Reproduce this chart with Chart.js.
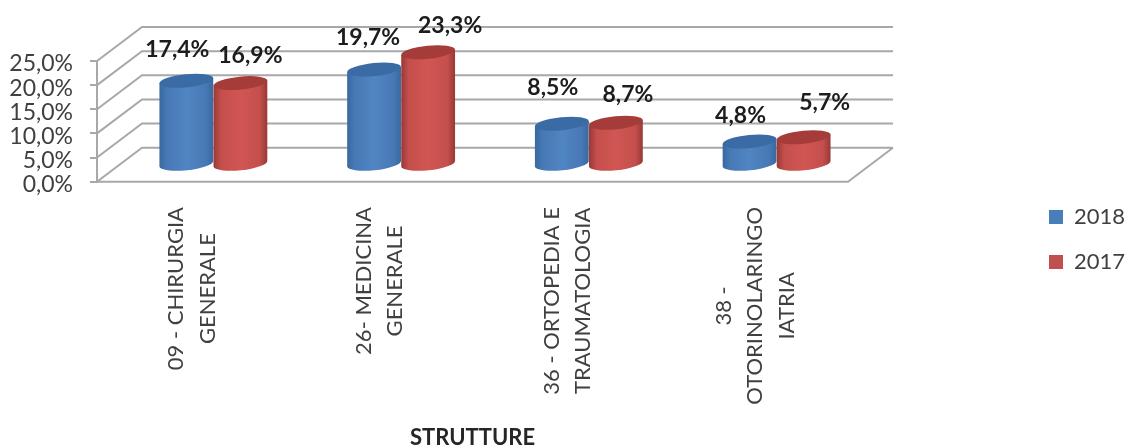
<!DOCTYPE html>
<html>
<head>
<meta charset="utf-8">
<title>Strutture</title>
<script src="https://cdn.jsdelivr.net/npm/chart.js@4"></script>
<style>
  html, body { margin: 0; padding: 0; background: #fff; }
  #chart { display: block; }
</style>
</head>
<body>
<canvas id="chart" width="1128" height="448"></canvas>
<script>
const categories = [
  ['09 - CHIRURGIA', 'GENERALE'],
  ['26- MEDICINA', 'GENERALE'],
  ['36 - ORTOPEDIA E', 'TRAUMATOLOGIA'],
  ['38 -', 'OTORINOLARINGO', 'IATRIA']
];
const values2018 = [17.4, 19.7, 8.5, 4.8];
const values2017 = [16.9, 23.3, 8.7, 5.7];
const tickValues = [0, 5, 10, 15, 20, 25];

// label nudges from the top of each cylinder, per series
const labelNudge = [
  [[-9, -31], [-6, -32], [-9, -36], [-9, -26]],
  [[10, -28], [22, -27], [12, -28], [21, -35]]
];

const DEPTH_X = 45;
const DEPTH_Y = -34;
const GRID = '#a8a8a8';

function pct(v) {
  return v.toFixed(1).replace('.', ',') + '%';
}

function cylinder(ctx, cx, top, bottom, w, c) {
  const rx = w / 2, ry = 6.5, rot = -0.1;
  const g = ctx.createLinearGradient(cx - rx, 0, cx + rx, 0);
  g.addColorStop(0, c.edge);
  g.addColorStop(0.14, c.body);
  g.addColorStop(0.5, c.mid);
  g.addColorStop(0.86, c.body);
  g.addColorStop(1, c.edge);
  const ex = rx * Math.cos(rot), ey = rx * Math.sin(rot);
  ctx.beginPath();
  ctx.moveTo(cx - ex, top - ey);
  ctx.lineTo(cx - ex, bottom - ey);
  ctx.ellipse(cx, bottom, rx, ry, rot, Math.PI, 0, true);
  ctx.lineTo(cx + ex, top + ey);
  ctx.closePath();
  ctx.fillStyle = g;
  ctx.fill();
  ctx.beginPath();
  ctx.ellipse(cx, top, rx, ry, rot, 0, Math.PI * 2);
  ctx.fillStyle = c.top;
  ctx.fill();
}

const colors = [
  { edge: '#38689f', mid: '#5085c3', body: '#4779b5', top: '#3a6ba4' },
  { edge: '#973835', mid: '#d05653', body: '#c44f4c', top: '#a63c39' }
];

const box3d = {
  id: 'box3d',
  afterLayout(chart) {
    // legend sits far right of the plot, like the original
    const lg = chart.legend;
    const w = lg.right - lg.left;
    lg.left = 1026;
    lg.right = lg.left + w;
    const h = lg.bottom - lg.top;
    lg.top = 46;
    lg.bottom = lg.top + h;
  },
  beforeDatasetsDraw(chart) {
    const { ctx, chartArea: a, scales } = chart;
    ctx.save();
    ctx.strokeStyle = GRID;
    ctx.lineWidth = 2;
    ctx.beginPath();
    tickValues.forEach(v => {
      const y = scales.y.getPixelForValue(v);
      ctx.moveTo(a.left, y);
      ctx.lineTo(a.left + DEPTH_X, y + DEPTH_Y);
      ctx.lineTo(a.right + DEPTH_X, y + DEPTH_Y);
    });
    ctx.moveTo(a.left, a.bottom);
    ctx.lineTo(a.right, a.bottom);
    ctx.lineTo(a.right + DEPTH_X, a.bottom + DEPTH_Y);
    ctx.stroke();
    ctx.restore();
  },
  afterDatasetsDraw(chart) {
    const { ctx, scales } = chart;
    ctx.save();
    categories.forEach((c, i) => {
      [0, 1].forEach(d => {
        const el = chart.getDatasetMeta(d).data[i];
        cylinder(ctx, el.x + DEPTH_X / 2, el.y + DEPTH_Y / 2, el.base + DEPTH_Y / 2, el.width, colors[d]);
      });
    });
    // data labels
    ctx.font = 'bold 23px Lato';
    ctx.fillStyle = '#1c1c1c';
    ctx.textAlign = 'center';
    ctx.textBaseline = 'middle';
    [values2018, values2017].forEach((vals, d) => {
      vals.forEach((v, i) => {
        const el = chart.getDatasetMeta(d).data[i];
        const n = labelNudge[d][i];
        ctx.fillText(pct(v), el.x + DEPTH_X / 2 + n[0], el.y + DEPTH_Y / 2 + n[1]);
      });
    });
    // rotated category labels, each block hangs from the same top line
    ctx.font = '22px Lato';
    ctx.fillStyle = '#404040';
    categories.forEach((lines, i) => {
      const x = scales.x.getPixelForTick(i);
      const longest = Math.max(...lines.map(t => ctx.measureText(t).width));
      ctx.save();
      ctx.translate(x + 1, 207 + longest / 2);
      ctx.rotate(-Math.PI / 2);
      lines.forEach((t, k) => {
        ctx.fillText(t, 0, (k - (lines.length - 1) / 2) * 31.5);
      });
      ctx.restore();
    });
    ctx.restore();
  }
};

new Chart(document.getElementById('chart'), {
  type: 'bar',
  data: {
    labels: categories,
    datasets: [
      { label: '2018', data: values2018, backgroundColor: 'rgba(0,0,0,0)' },
      { label: '2017', data: values2017, backgroundColor: 'rgba(0,0,0,0)' }
    ]
  },
  plugins: [box3d],
  options: {
    responsive: false,
    animation: false,
    categoryPercentage: 0.576,
    barPercentage: 1,
    layout: { padding: { top: 61, right: 171, left: 0, bottom: 0 } },
    plugins: {
      tooltip: { enabled: false },
      legend: {
        position: 'right',
        labels: {
          boxWidth: 14,
          boxHeight: 14,
          padding: 23,
          color: '#404040',
          font: { family: 'Lato', size: 22 },
          generateLabels() {
            return ['2018', '2017'].map((t, i) => ({
              text: t,
              fillStyle: i ? '#c0504d' : '#4a7ebb',
              strokeStyle: 'rgba(0,0,0,0)',
              lineWidth: 0,
              fontColor: '#404040',
              datasetIndex: i
            }));
          }
        }
      }
    },
    scales: {
      x: {
        grid: { display: false },
        border: { display: false },
        ticks: { display: false },
        title: {
          display: true,
          text: 'STRUTTURE',
          color: '#262626',
          font: { family: 'Lato', size: 22, weight: 'bold' },
          padding: { top: 0, bottom: -3 }
        },
        afterFit(scale) { scale.height = 266.3; }
      },
      y: {
        min: 0,
        max: 25,
        afterBuildTicks(scale) { scale.ticks = tickValues.map(v => ({ value: v })); },
        grid: { drawOnChartArea: false, color: GRID, lineWidth: 2, tickLength: 7 },
        border: { color: GRID, width: 2 },
        ticks: {
          autoSkip: false,
          color: '#404040',
          padding: 17,
          labelOffset: 3,
          font: { family: 'Lato', size: 23 },
          callback: v => pct(v)
        },
        afterFit(scale) { scale.width = 97; }
      }
    }
  }
});
</script>
</body>
</html>
